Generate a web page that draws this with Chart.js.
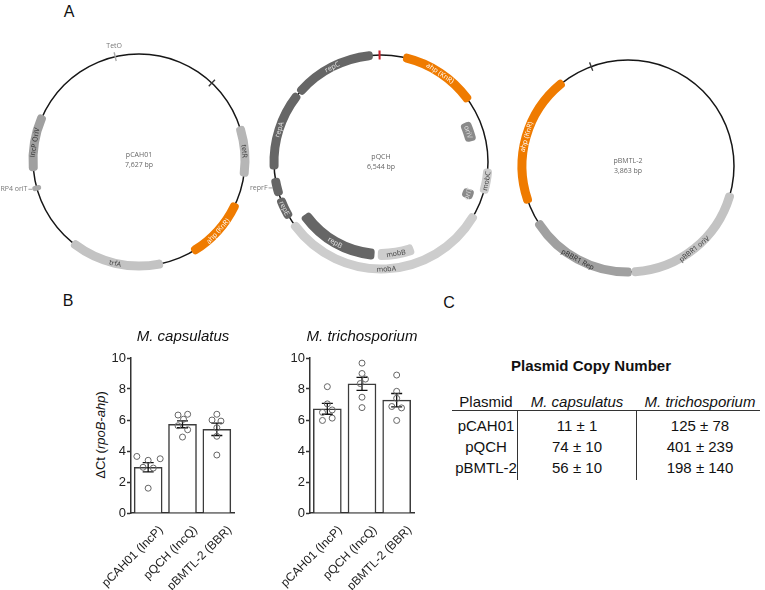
<!DOCTYPE html>
<html>
<head>
<meta charset="utf-8">
<script src="https://cdn.jsdelivr.net/npm/chart.js@4.4.1/dist/chart.umd.min.js"></script>
<style>
  body { margin: 0; background: #fff; width: 765px; height: 590px; position: relative; overflow: hidden;
         font-family: "Liberation Sans", Arial, sans-serif; color: #111; }
  canvas { position: absolute; }
  .t { position: absolute; white-space: nowrap; line-height: 1; }
  .c { transform: translate(-50%, -50%); }
  .vline { position: absolute; width: 1px; background: #333; }
  .hline { position: absolute; height: 1px; background: #333; }
</style>
</head>
<body>

<div class="t c" style="left:69px;top:12px;font-size:16px">A</div>
<div class="t c" style="left:68px;top:301px;font-size:16px">B</div>
<div class="t c" style="left:449px;top:303px;font-size:16px">C</div>

<canvas id="pcahBb" width="290" height="290" style="left:-6px;top:15px"></canvas>
<canvas id="pcahFt" width="290" height="290" style="left:-6px;top:15px"></canvas>
<canvas id="pqchBb" width="290" height="290" style="left:236px;top:17px"></canvas>
<canvas id="pqchFt" width="290" height="290" style="left:236px;top:17px"></canvas>
<canvas id="pbmtBb" width="290" height="290" style="left:483px;top:21px"></canvas>
<canvas id="pbmtFt" width="290" height="290" style="left:483px;top:21px"></canvas>

<div class="t c" style="left:183px;top:335px;font-size:15px;font-style:italic">M. capsulatus</div>
<div class="t c" style="left:362px;top:335px;font-size:15px;font-style:italic">M. trichosporium</div>
<div class="t" style="left:100px;top:435px;font-size:13px;transform:translate(-50%,-50%) rotate(-90deg)">ΔCt (<i>rpoB-ahp</i>)</div>

<canvas id="barCaps" width="175" height="250" style="left:70px;top:340px"></canvas>
<canvas id="barTrich" width="175" height="250" style="left:249px;top:340px"></canvas>

<div class="t c" style="left:591px;top:365px;font-size:15px;font-weight:bold">Plasmid Copy Number</div>
<div id="table"></div>

<script>
// ---- panel A: plasmid maps (bp positions) ----
const pcahSize = 7627;
const pcahNames = ['', 'tetR', 'ahp (KnR)', 'trfA', '', 'IncP OriV', ''];
const pcahStarts = [912, 1515, 2415, 3538, 5366, 5593, 7344];
const pcahEnds = [928, 2097, 3178, 4640, 5424, 6250, 7360];
const pcahTypes = ['cut', 'gene', 'marker', 'gene2', 'dot', 'ori', 'op'];
const pcahCallouts = ['', '', '', '', 'RP4 oriT', '', 'TetO'];

const pqchSize = 6544;
const pqchOuterNames = ['ahp (KnR)', 'mobC', 'mobA', 'repE', '', 'repA', 'repC', ''];
const pqchOuterStarts = [218, 1700, 2167, 4337, 4575, 4835, 5635, 6520];
const pqchOuterEnds = [1005, 1945, 4275, 4550, 4752, 5624, 6464, 6540];
const pqchOuterTypes = ['marker', 'mob', 'mob', 'rep', 'rep', 'rep', 'rep', 'site'];
const pqchCallouts = ['', '', '', '', 'reprF', '', '', ''];
const pqchInnerNames = ['oriV', 'oriT', 'mobB', 'repB'];
const pqchInnerStarts = [1182, 1945, 2899, 3345];
const pqchInnerEnds = [1400, 2054, 3308, 4279];
const pqchInnerTypes = ['box', 'box', 'mob', 'rep'];

const pbmtSize = 3863;
const pbmtNames = ['pBBR1 oriV', 'pBBR1 Rep', 'ahp (KnR)', ''];
const pbmtStarts = [1124, 1910, 2677, 3641];
const pbmtEnds = [1910, 2560, 3461, 3649];
const pbmtTypes = ['gene2', 'ori', 'marker', 'cut'];

// ---- panel B: delta Ct ----
const plasmidLabels = ['pCAH01 (IncP)', 'pQCH (IncQ)', 'pBMTL-2 (BBR)'];
const capsMeans = [2.95, 5.72, 5.40];
const capsSem = [0.30, 0.22, 0.40];
const capsPoints = [
  [3.65, 3.40, 3.50, 2.95, 2.90, 1.60],
  [6.32, 6.37, 6.05, 5.63, 5.37, 4.90],
  [6.37, 6.00, 5.93, 5.50, 4.95, 3.74]
];
const capsJitter = [
  [-0.33, 0, 0.35, -0.15, 0.15, 0],
  [-0.13, 0.15, 0.03, -0.13, 0.15, 0],
  [0, -0.14, 0.12, 0, 0, 0]
];
const trichMeans = [6.72, 8.33, 7.28];
const trichSem = [0.35, 0.42, 0.43];
const trichPoints = [
  [8.15, 7.04, 6.65, 6.49, 6.12, 5.97],
  [9.67, 9.00, 8.64, 8.35, 7.47, 6.80],
  [8.90, 7.85, 7.40, 6.87, 6.78, 5.97]
];
const trichJitter = [
  [0, 0, 0.14, -0.14, 0.14, -0.14],
  [0, 0, 0.1, -0.05, 0, 0],
  [0, 0, 0, -0.14, 0.14, 0]
];

// ---- panel C: copy number table ----
const tableHeader = ['Plasmid', 'M. capsulatus', 'M. trichosporium'];
const tablePlasmids = ['pCAH01', 'pQCH', 'pBMTL-2'];
const capsCopies = ['11 ± 1', '74 ± 10', '56 ± 10'];
const trichCopies = ['125 ± 78', '401 ± 239', '198 ± 140'];

Chart.defaults.font.family = '"Liberation Sans", Arial, sans-serif';
Chart.defaults.color = '#222';

const featColors = {
  marker: '#ef7b00', gene: '#b6b6b6', gene2: '#c3c3c3', ori: '#a0a0a0', rep: '#666666',
  mob: '#cdcdcd', box: '#8a8a8a', cut: '#3a3a3a', op: '#a8a8a8', dot: '#a9a9a9', site: '#cc1f2a'
};
const featText = {
  marker: '#ffffff', gene: '#3a3a3a', gene2: '#3a3a3a', ori: '#2a2a2a', rep: '#e4e4e4',
  mob: '#3a3a3a', box: '#e2e2e2'
};
const thinTypes = ['cut', 'op', 'site', 'dot'];

function buildRing(total, names, starts, ends, types, callouts, weight) {
  const data = [], bg = [], labels = [], fg = [], outs = [], radii = [];
  let pos = 0;
  const gap = to => {
    if (to > pos) {
      data.push(to - pos); bg.push('rgba(0,0,0,0)'); labels.push(''); fg.push(''); outs.push(''); radii.push(0);
    }
  };
  starts.forEach((s, i) => {
    gap(s);
    data.push(ends[i] - s);
    bg.push(featColors[types[i]]);
    labels.push(names[i]);
    fg.push(featText[types[i]] || '#333');
    outs.push(callouts ? callouts[i] : '');
    radii.push(types[i] === 'dot' ? 4 : (thinTypes.includes(types[i]) ? 0 : 3.5));
    pos = ends[i];
  });
  gap(total);
  return { data, backgroundColor: bg, borderWidth: 0, borderRadius: radii,
           names: labels, textColors: fg, callouts: outs, weight };
}

const mapLabels = {
  id: 'mapLabels',
  afterDatasetsDraw(chart, args, opts) {
    const ctx = chart.ctx;
    const cx = (chart.chartArea.left + chart.chartArea.right) / 2;
    const cy = (chart.chartArea.top + chart.chartArea.bottom) / 2;
    ctx.save();
    chart.data.datasets.forEach((ds, di) => {
      if (!ds.names) return;
      chart.getDatasetMeta(di).data.forEach((arc, i) => {
        const p = arc.getProps(['startAngle', 'endAngle', 'innerRadius', 'outerRadius'], true);
        const mid = (p.startAngle + p.endAngle) / 2;
        if (ds.names[i]) {
          const r = (p.innerRadius + p.outerRadius) / 2;
          let rot = mid + Math.PI / 2;
          const norm = ((mid % (2 * Math.PI)) + 2 * Math.PI) % (2 * Math.PI);
          if (norm > 0 && norm < Math.PI) rot += Math.PI;
          ctx.save();
          ctx.translate(cx + r * Math.cos(mid), cy + r * Math.sin(mid));
          ctx.rotate(rot);
          ctx.font = '7px "Open Sans"';
          ctx.fillStyle = ds.textColors[i];
          ctx.textAlign = 'center';
          ctx.textBaseline = 'middle';
          ctx.fillText(ds.names[i], 0, 0.5);
          ctx.restore();
        }
        if (ds.callouts && ds.callouts[i]) {
          const ex = cx + p.outerRadius * Math.cos(mid), ey = cy + p.outerRadius * Math.sin(mid);
          ctx.font = '7px "Open Sans"';
          ctx.fillStyle = '#777';
          if (Math.abs(Math.cos(mid)) < 0.5) {
            ctx.textAlign = 'center';
            ctx.textBaseline = 'bottom';
            ctx.fillText(ds.callouts[i], ex, ey - 3);
          } else {
            const dir = Math.cos(mid) < 0 ? -1 : 1;
            ctx.strokeStyle = '#888';
            ctx.lineWidth = 0.8;
            ctx.beginPath();
            ctx.moveTo(ex, ey); ctx.lineTo(ex + dir * 4, ey);
            ctx.stroke();
            ctx.textAlign = dir < 0 ? 'right' : 'left';
            ctx.textBaseline = 'middle';
            ctx.fillText(ds.callouts[i], ex + dir * 5, ey);
          }
        }
      });
    });
    ctx.font = '7px "Open Sans"';
    ctx.fillStyle = '#666';
    ctx.textAlign = 'center';
    ctx.textBaseline = 'middle';
    ctx.fillText(opts.title, cx, cy - 5);
    ctx.fillText(opts.size, cx, cy + 5);
    ctx.restore();
  }
};

const pct = (inner, outer) => (inner / outer * 100) + '%';
const quiet = { legend: { display: false }, tooltip: { enabled: false } };

function plasmidMap(id, total, R, datasets, innerR, title) {
  new Chart(document.getElementById(id + 'Bb'), {
    type: 'doughnut',
    data: { datasets: [{ data: [total], backgroundColor: '#161616', borderWidth: 0 }] },
    options: { responsive: false, animation: false, events: [],
               radius: R + 0.75, cutout: pct(R - 0.75, R + 0.75), plugins: quiet }
  });
  new Chart(document.getElementById(id + 'Ft'), {
    type: 'doughnut',
    data: { datasets },
    options: { responsive: false, animation: false, events: [],
               radius: R + 4.5, cutout: pct(innerR, R + 4.5),
               plugins: { ...quiet, mapLabels: { title, size: total.toLocaleString('en-US') + ' bp' } } },
    plugins: [mapLabels]
  });
}

plasmidMap('pcah', pcahSize, 106,
  [buildRing(pcahSize, pcahNames, pcahStarts, pcahEnds, pcahTypes, pcahCallouts, 9)],
  101.5, 'pCAH01');

plasmidMap('pqch', pqchSize, 107, [
  buildRing(pqchSize, pqchOuterNames, pqchOuterStarts, pqchOuterEnds, pqchOuterTypes, pqchCallouts, 9),
  { data: [pqchSize], backgroundColor: 'rgba(0,0,0,0)', borderWidth: 0, weight: 4.5 },
  buildRing(pqchSize, pqchInnerNames, pqchInnerStarts, pqchInnerEnds, pqchInnerTypes, null, 11)
], 87, 'pQCH');

plasmidMap('pbmt', pbmtSize, 106,
  [buildRing(pbmtSize, pbmtNames, pbmtStarts, pbmtEnds, pbmtTypes, null, 9)],
  101.5, 'pBMTL-2');

// ---- bar charts ----
const errorBars = {
  id: 'errorBars',
  afterDatasetDraw(chart, args) {
    if (args.index !== 0) return;
    const ds = chart.data.datasets[0];
    const y = chart.scales.y;
    const ctx = chart.ctx;
    ctx.save();
    ctx.strokeStyle = '#111';
    ctx.lineWidth = 1.3;
    args.meta.data.forEach((bar, i) => {
      const top = y.getPixelForValue(ds.data[i].y + ds.sems[i]);
      const bot = y.getPixelForValue(ds.data[i].y - ds.sems[i]);
      ctx.beginPath();
      ctx.moveTo(bar.x, top); ctx.lineTo(bar.x, bot);
      ctx.moveTo(bar.x - 5.5, top); ctx.lineTo(bar.x + 5.5, top);
      ctx.moveTo(bar.x - 5.5, bot); ctx.lineTo(bar.x + 5.5, bot);
      ctx.stroke();
    });
    ctx.restore();
  }
};

function barChart(id, means, sems, points, jitter, padRight) {
  const pts = [];
  points.forEach((arr, i) => arr.forEach((v, j) => pts.push({ x: i + jitter[i][j], y: v })));
  return new Chart(document.getElementById(id), {
    data: {
      datasets: [
        { type: 'bar', data: means.map((m, i) => ({ x: i, y: m })), sems,
          backgroundColor: '#ffffff', borderColor: '#3c3c3c', borderWidth: 1.5, barThickness: 28, order: 2 },
        { type: 'scatter', data: pts, pointRadius: 3, pointBackgroundColor: 'rgba(255,255,255,0)',
          pointBorderColor: '#666', pointBorderWidth: 1, order: 1 }
      ]
    },
    options: {
      responsive: false, animation: false, events: [],
      layout: { padding: { top: 18, right: padRight, left: 0, bottom: 0 } },
      plugins: quiet,
      scales: {
        x: {
          type: 'linear', min: -0.5, max: 2.5, offset: false,
          afterBuildTicks: s => { s.ticks = plasmidLabels.map((_, i) => ({ value: i })); },
          afterFit: s => { s.height = 77; },
          ticks: { callback: v => plasmidLabels[v], minRotation: 45, maxRotation: 45, autoSkip: false,
                   font: { size: 12 }, color: '#222', padding: 10, labelOffset: 13 },
          grid: { display: true, offset: false, drawOnChartArea: false, drawTicks: false },
          border: { color: '#333', width: 1.5, dash: [2, 2] }
        },
        y: {
          min: 0, max: 10,
          afterFit: s => { s.width = 61; },
          ticks: { stepSize: 2, font: { size: 13 }, color: '#222', padding: 1 },
          grid: { drawOnChartArea: false, tickLength: 4, color: '#333', tickWidth: 1.5 },
          border: { color: '#333', width: 1.5 }
        }
      }
    },
    plugins: [errorBars]
  });
}

barChart('barCaps', capsMeans, capsSem, capsPoints, capsJitter, 11);
barChart('barTrich', trichMeans, trichSem, trichPoints, trichJitter, 10);

// ---- table ----
const tbl = document.getElementById('table');
const colCenters = [486, 577, 700];
const addText = (txt, x, y, italic) => {
  const d = document.createElement('div');
  d.className = 't c';
  d.style.cssText = `left:${x}px;top:${y}px;font-size:15px;${italic ? 'font-style:italic;' : ''}`;
  d.textContent = txt;
  tbl.appendChild(d);
};
tableHeader.forEach((h, i) => addText(h, colCenters[i], 401, i > 0));
tablePlasmids.forEach((p, r) => {
  const y = 425 + r * 21;
  addText(p, colCenters[0], y, false);
  addText(capsCopies[r], colCenters[1], y, false);
  addText(trichCopies[r], colCenters[2], y, false);
});
tbl.insertAdjacentHTML('beforeend',
  '<div class="hline" style="left:452px;top:410px;width:308px"></div>' +
  '<div class="vline" style="left:517px;top:410px;height:70px"></div>' +
  '<div class="vline" style="left:636px;top:410px;height:70px"></div>');
</script>
</body>
</html>
